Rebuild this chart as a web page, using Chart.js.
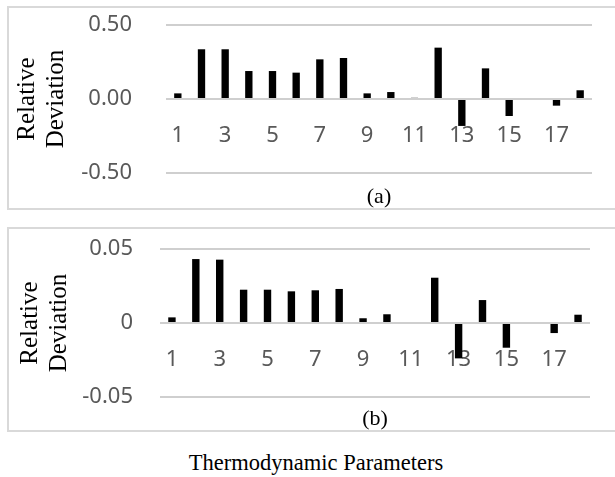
<!DOCTYPE html>
<html lang="en">
<head>
<meta charset="UTF-8" />
<title>Relative Deviation</title>
<script src="https://cdn.jsdelivr.net/npm/chart.js"></script>
<style>
  body {
    margin: 0;
    background: #fff;
    width: 615px;
    height: 477px;
    position: relative;
    overflow: hidden;
  }
  .panel {
    position: absolute;
    left: 7px;
    width: 612px;
    border: 2px solid #d9d9d9;
    box-sizing: border-box;
  }
  #panelA { top: 6px; height: 204px; }
  #panelB { top: 227px; height: 205px; }
  .panel canvas { position: absolute; left: 0; top: 0; }
  #xTitle {
    position: absolute;
    left: 0;
    width: 632px;
    top: 450px;
    line-height: 26px;
    text-align: center;
    font-family: 'Liberation Serif', serif;
    font-size: 22.5px;
    color: #000;
  }
</style>
</head>
<body>
  <div class="panel" id="panelA"><canvas id="chartA" width="608" height="200"></canvas></div>
  <div class="panel" id="panelB"><canvas id="chartB" width="608" height="201"></canvas></div>
  <div id="xTitle">Thermodynamic Parameters</div>

<script>
  // parameter numbers 1..18
  const params = ['1','2','3','4','5','6','7','8','9','10','11','12','13','14','15','16','17','18'];

  // (a) relative deviation
  const devA = [0.038, 0.336, 0.336, 0.189, 0.189, 0.178, 0.268, 0.277, 0.038,
                0.047, 0.008, 0.347, -0.182, 0.207, -0.115, 0, -0.045, 0.059];

  // (b) relative deviation
  const devB = [0.0038, 0.0432, 0.0428, 0.0225, 0.0225, 0.0214, 0.0221, 0.023, 0.0032,
                0.0059, 0, 0.0306, -0.0239, 0.0155, -0.0167, 0, -0.0068, 0.0056];

  // y tick values
  const yTicksA = [-0.5, 0, 0.5];
  const yTicksB = [-0.05, 0, 0.05];

  const yTitle = ['Relative', 'Deviation'];
  const tickFont = { family: 'Noto Sans', size: 22, lineHeight: 1.2 };

  function makeChart(id, values, yTicks, fmt, cfg) {
    return new Chart(document.getElementById(id), {
      type: 'bar',
      data: {
        labels: params,
        datasets: [{
          data: values,
          backgroundColor: '#000',
          barPercentage: 0.31,
          categoryPercentage: 1
        }]
      },
      options: {
        responsive: false,
        animation: false,
        layout: { padding: { top: cfg.top, right: cfg.right, left: 0, bottom: 0 } },
        plugins: {
          legend: { display: false },
          tooltip: { enabled: false },
          title: {
            display: true,
            text: cfg.caption,
            position: 'bottom',
            fullSize: false,
            color: '#000',
            font: { family: 'Liberation Serif', size: 22, weight: 'normal', lineHeight: 1 },
            padding: { top: cfg.capTop, bottom: 0 }
          }
        },
        scales: {
          x: {
            // category labels sit right under the zero line
            position: { y: 0 },
            grid: { display: false },
            border: { display: false },
            ticks: {
              autoSkip: false,
              maxRotation: 0,
              padding: cfg.xPad,
              color: '#595959',
              font: tickFont,
              callback: (v, i) => (i % 2 === 0 ? params[i] : '')
            },
            afterFit: s => { s.height = 0; }
          },
          y: {
            min: yTicks[0],
            max: yTicks[yTicks.length - 1],
            afterBuildTicks: s => { s.ticks = yTicks.map(v => ({ value: v })); },
            grid: { color: '#cfcfcf', lineWidth: 2, drawTicks: false },
            border: { display: false },
            ticks: { padding: cfg.tickPad, color: '#595959', font: tickFont, callback: fmt },
            title: {
              display: true,
              text: yTitle,
              color: '#000',
              font: { family: 'Liberation Serif', size: 25, lineHeight: 1.15 },
              padding: { top: cfg.titlePad, bottom: 0 }
            },
            afterFit: s => {
              s.width = cfg.left;
              // tick padding should not push the plot area in
              s.paddingTop = 0;
              s.paddingBottom = 0;
            }
          }
        }
      }
    });
  }

  makeChart('chartA', devA, yTicksA, v => v.toFixed(2),
    { caption: '(a)', top: 17, right: 25, left: 157, tickPad: 34, titlePad: 4, capTop: 13, xPad: 16 });

  makeChart('chartB', devB, yTicksB, v => (v === 0 ? '0' : v.toFixed(2)),
    { caption: '(b)', top: 20, right: 27, left: 151, tickPad: 27, titlePad: 7, capTop: 11, xPad: 16 });
</script>
</body>
</html>
